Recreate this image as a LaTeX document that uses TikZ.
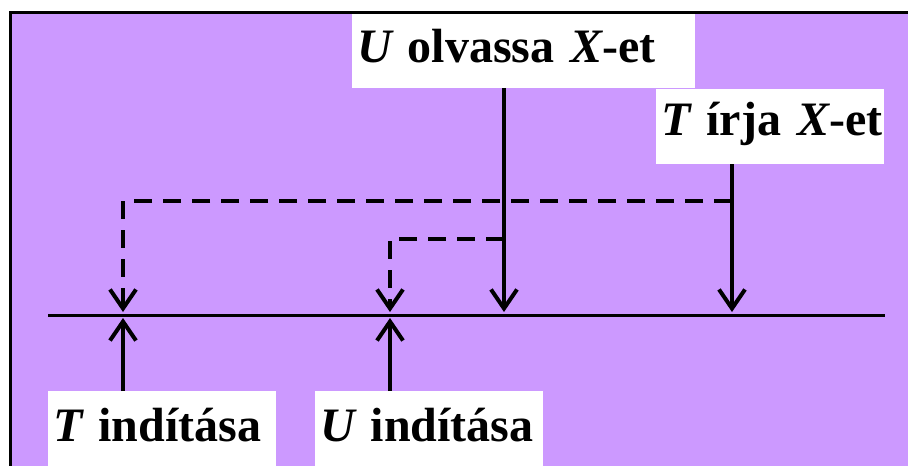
\documentclass[tikz,border=0pt]{standalone}
\usepackage{fontspec}
\setmainfont{Liberation Serif}
\usetikzlibrary{arrows.meta,positioning,calc}
\definecolor{lilac}{RGB}{204,153,255}

\begin{document}
\begin{tikzpicture}[x=1pt,y=-1pt,
  lbl/.style={fill=white, anchor=north west, align=left, inner xsep=5pt,
    font=\fontsize{48}{60}\selectfont\bfseries, text height=35pt},
  sarrow/.style={line width=4pt, -{Straight Barb[length=19pt,width=26pt,line width=4pt]}},
  darrow/.style={sarrow, dash pattern=on 18pt off 11pt},
]
\useasboundingbox (0,0) rectangle (908,466);
\clip (0,0) rectangle (908,466);

% background frame (cut off right and bottom)
\draw[fill=lilac, line width=3pt] (10,12.5) rectangle (940,500);

% labels
\node[lbl, text width=333pt, inner ysep=14pt, text depth=11pt] (uread) at (352,13.5)
  {\mbox{\itshape U\upshape{} olvassa \itshape X\upshape-et}};
\node[lbl, text width=218pt, inner ysep=11pt, text depth=18pt] (twrite) at (656,89)
  {\mbox{\itshape T\upshape{} írja \itshape X\upshape-et}};
\node[lbl, text width=218pt, inner ysep=15pt, text depth=20pt] (tstart) at (48,391)
  {\mbox{\itshape T\upshape{} indítása}};
\node[lbl, text width=218pt, inner ysep=15pt, text depth=20pt] (ustart) at (315,391)
  {\mbox{\itshape U\upshape{} indítása}};

% time axis
\coordinate (axl) at (48,315);
\coordinate (axr) at (885,315);
\draw[line width=3pt] (axl) -- (axr);

% arrow ends on the axis
\coordinate (tsup) at (123,318);
\coordinate (usup) at (390,318);
\coordinate (tsdn) at (123,312);
\coordinate (usdn) at (390,312);
\coordinate (urdn) at (504,312);
\coordinate (twdn) at (732,312);

% branch points of the dashed lines
\coordinate (twbr) at (732,201);
\coordinate (urbr) at (504,239);

\draw[sarrow] (tstart.north -| tsup) -- (tsup);
\draw[sarrow] (ustart.north -| usup) -- (usup);
\draw[sarrow] (uread.south -| urdn) -- (urdn);
\draw[sarrow] (twrite.south -| twdn) -- (twdn);

\draw[darrow] (twbr) -- (twbr -| tsdn) -- (tsdn);
\draw[darrow] (urbr) -- (urbr -| usdn) -- (usdn);
\end{tikzpicture}
\end{document}
